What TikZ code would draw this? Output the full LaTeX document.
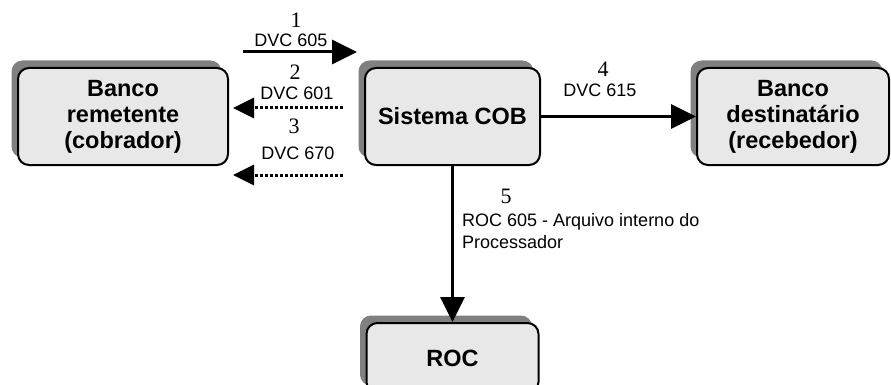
\documentclass[tikz,border=0pt]{standalone}
\usepackage{fontspec}
\setmainfont{Liberation Sans}
\newfontfamily\numfont{Liberation Serif}
\usetikzlibrary{arrows.meta,shadows}
\definecolor{caixacinza}{HTML}{E8E8E8}
\definecolor{sombra}{HTML}{808080}
\tikzstyle{caixa} = [draw, line width=2pt, rounded corners=11pt, fill=caixacinza,
    align=center, inner sep=0pt, font=\fontsize{23.5}{26}\selectfont\bfseries,
    drop shadow={shadow xshift=-6.5pt, shadow yshift=7.5pt, opacity=1, fill=sombra, draw=none}]
\tikzstyle{fluxo} = [line width=3pt, -{Triangle[length=25pt,width=24pt]}]
\tikzstyle{retorno} = [line width=3pt, dash pattern=on 3pt off 2pt, -{Triangle[length=21pt,width=20pt]}]
\tikzstyle{rotulo} = [inner sep=0pt, anchor=base, font=\fontsize{18}{22}\selectfont]
\tikzstyle{numero} = [inner sep=0pt, anchor=base, font=\numfont\fontsize{22}{22}\selectfont]

\begin{document}
\begin{tikzpicture}[x=1pt, y=-1pt]
\useasboundingbox (0,0) rectangle (891,385);
\clip (0,0) rectangle (891,385);
% caixas
\node[caixa, minimum width=210pt, minimum height=97pt] (remetente) at (123,116.5)
    {Banco\\remetente\\(cobrador)};
\node[caixa, minimum width=175pt, minimum height=97pt] (cob) at (452.5,116.5) {Sistema COB};
\node[caixa, minimum width=192pt, minimum height=97pt] (destinatario) at (793,116.5)
    {Banco\\destinatário\\(recebedor)};
\node[caixa, minimum width=172pt, minimum height=70pt] (roc) at (452.5,358) {ROC};
% mensagens
\coordinate (ini1) at (243,52);
\coordinate (fim1) at (357,52);
\coordinate (ini2) at (343,108);
\coordinate (fim2) at (233,108);
\coordinate (ini3) at (343,175);
\coordinate (fim3) at (233,175);
\draw[fluxo] (ini1) -- (fim1);
\draw[retorno] (ini2) -- (fim2);
\draw[retorno] (ini3) -- (fim3);
\draw[fluxo] (cob.east) -- (destinatario.west);
\draw[fluxo] (cob.south) -- (roc.north);
% rotulos
\node[numero] (n1) at (296,28) {1};
\node[rotulo] (r1) at (291,47) {DVC 605};
\node[numero] (n2) at (295,80) {2};
\node[rotulo] (r2) at (297,100) {DVC 601};
\node[numero] (n3) at (294,133) {3};
\node[rotulo] (r3) at (298,160) {DVC 670};
\node[numero] (n4) at (603,77) {4};
\node[rotulo] (r4) at (600,97) {DVC 615};
\node[numero] (n5) at (506,203) {5};
\node[rotulo, anchor=north west, align=left] (r5) at (462,213)
    {ROC 605 - Arquivo interno do\\Processador};
\end{tikzpicture}
\end{document}
